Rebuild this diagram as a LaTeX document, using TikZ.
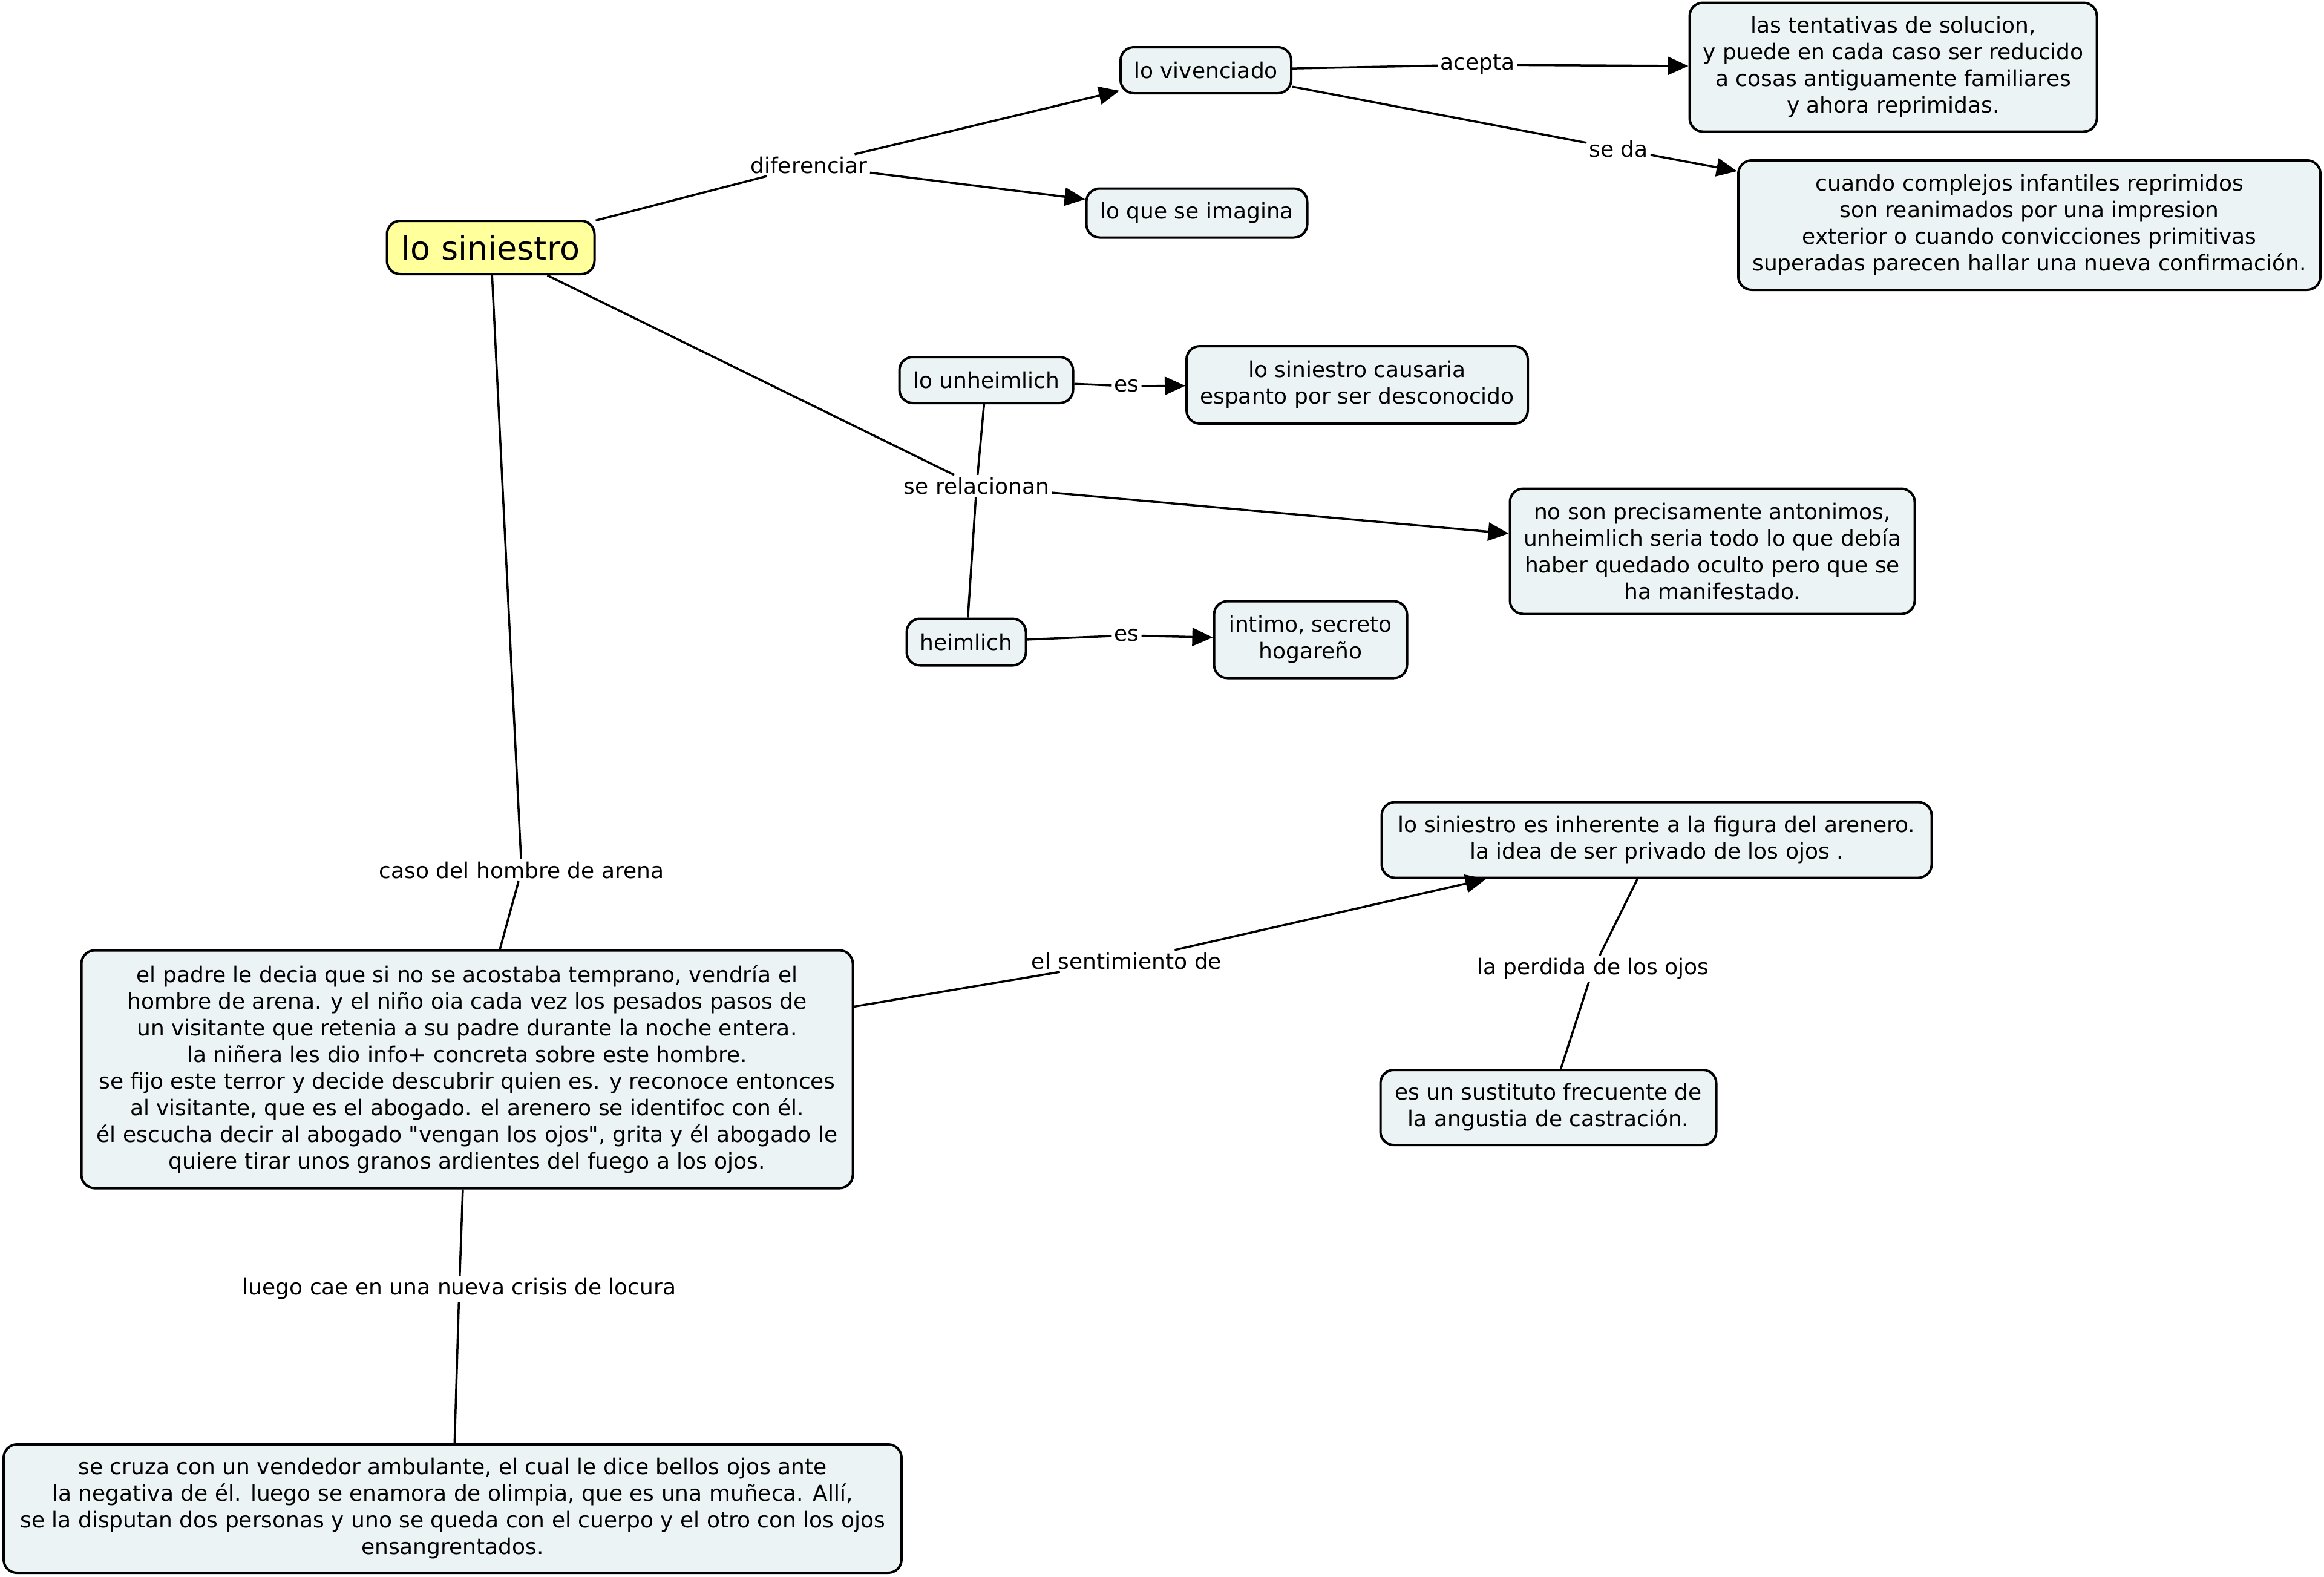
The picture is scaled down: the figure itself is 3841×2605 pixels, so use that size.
\documentclass[tikz,border=0pt]{standalone}
\usepackage{fontspec}
\setmainfont{DejaVu Sans}
\usetikzlibrary{arrows.meta}
\definecolor{conceptfill}{RGB}{236,243,245}
\definecolor{mainfill}{RGB}{255,255,155}
\newcommand\straightdq{\XeTeXglyph\XeTeXcharglyph"22\relax}
\tikzset{
  every node/.style={font=\fontsize{36}{44}\selectfont},
  concept/.style={draw=black, line width=4pt, fill=conceptfill, rounded corners=22pt, align=center, inner sep=0pt},
  linklabel/.style={inner sep=4pt, align=center},
  conn/.style={line width=3.5pt},
  arr/.style={conn, -{Triangle[length=34pt,width=30pt]}},
}
\begin{document}
\begin{tikzpicture}[x=1pt,y=-1pt]
\useasboundingbox[fill=white] (0,0) rectangle (3841,2605);
% concepts
\node[concept, fill=mainfill, minimum width=343pt, minimum height=88pt, font=\fontsize{54}{64}\selectfont] (sin) at (811,409) {lo siniestro};
\node[concept, minimum width=282pt, minimum height=76pt] (viv) at (1993,116) {lo vivenciado};
\node[concept, minimum width=365pt, minimum height=81pt] (ima) at (1978,352) {lo que se imagina};
\node[concept, minimum width=673pt, minimum height=213pt] (tent) at (3129,111) {las tentativas de solucion,\\ y puede en cada caso ser reducido\\ a cosas antiguamente familiares\\ y ahora reprimidas.};
\node[concept, minimum width=962pt, minimum height=214pt] (cuando) at (3354,372) {cuando complejos infantiles reprimidos\\ son reanimados por una impresion\\ exterior o cuando convicciones primitivas\\ superadas parecen hallar una nueva confirmación.};
\node[concept, minimum width=287pt, minimum height=76pt] (unh) at (1630,628) {lo unheimlich};
\node[concept, minimum width=564pt, minimum height=128pt] (caus) at (2243,636) {lo siniestro causaria\\ espanto por ser desconocido};
\node[concept, minimum width=669pt, minimum height=207pt] (noson) at (2830,911) {no son precisamente antonimos,\\ unheimlich seria todo lo que debía\\ haber quedado oculto pero que se\\ ha manifestado.};
\node[concept, minimum width=197pt, minimum height=77pt] (heim) at (1597,1061) {heimlich};
\node[concept, minimum width=319pt, minimum height=127pt] (intimo) at (2166,1057) {intimo, secreto\\ hogareño};
\node[concept, minimum width=909pt, minimum height=125pt] (inh) at (2738,1388) {lo siniestro es inherente a la figura del arenero.\\ la idea de ser privado de los ojos .};
\node[concept, minimum width=555pt, minimum height=124pt] (sust) at (2559,1830) {es un sustituto frecuente de\\ la angustia de castración.};
\node[concept, minimum width=1275pt, minimum height=393pt] (padre) at (772,1767) {el padre le decia que si no se acostaba temprano, vendría el\\ hombre de arena. y el niño oia cada vez los pesados pasos de\\ un visitante que retenia a su padre durante la noche entera.\\ la niñera les dio info+ concreta sobre este hombre.\\ se fijo este terror y decide descubrir quien es. y reconoce entonces\\ al visitante, que es el abogado. el arenero se identifoc con él.\\ él escucha decir al abogado \straightdq vengan los ojos\straightdq, grita y él abogado le\\ quiere tirar unos granos ardientes del fuego a los ojos.};
\node[concept, minimum width=1484pt, minimum height=212pt] (cruza) at (748,2493) {se cruza con un vendedor ambulante, el cual le dice bellos ojos ante\\ la negativa de él. luego se enamora de olimpia, que es una muñeca. Allí,\\ se la disputan dos personas y uno se queda con el cuerpo y el otro con los ojos\\ ensangrentados.};
% link labels
\node[linklabel] (dif) at (1337,273) {diferenciar};
\node[linklabel] (acep) at (2442,107) {acepta};
\node[linklabel] (seda) at (2675,246) {se da};
\node[linklabel] (es1) at (1862,638) {es};
\node[linklabel] (es2) at (1862,1050) {es};
\node[linklabel] (serel) at (1614,803) {se relacionan};
\node[linklabel] (caso) at (862,1438) {caso del hombre de arena};
\node[linklabel] (sent) at (1862,1588) {el sentimiento de};
\node[linklabel] (perd) at (2633,1601) {la perdida de los ojos};
\node[linklabel] (luego) at (759,2130) {luego cae en una nueva crisis de locura};
% connectors
\draw[conn] (sin) -- (dif);
\draw[arr] (dif) -- (viv);
\draw[arr] (dif) -- (ima);
\draw[conn] (viv) -- (acep);
\draw[arr] (acep) -- (tent);
\draw[conn] (viv) -- (seda);
\draw[arr] (seda) -- (cuando);
\draw[conn] (sin) -- (serel);
\draw[conn] (unh) -- (serel);
\draw[conn] (heim) -- (serel);
\draw[arr] (serel) -- (noson);
\draw[conn] (unh) -- (es1);
\draw[arr] (es1) -- (caus);
\draw[conn] (heim) -- (es2);
\draw[arr] (es2) -- (intimo);
\draw[conn] (sin) -- (caso);
\draw[conn] (caso) -- (padre);
\draw[conn] (padre) -- (sent);
\draw[arr] (sent) -- (inh);
\draw[conn] (inh) -- (perd);
\draw[conn] (perd) -- (sust);
\draw[conn] (padre) -- (luego);
\draw[conn] (luego) -- (cruza);
\end{tikzpicture}
\end{document}
